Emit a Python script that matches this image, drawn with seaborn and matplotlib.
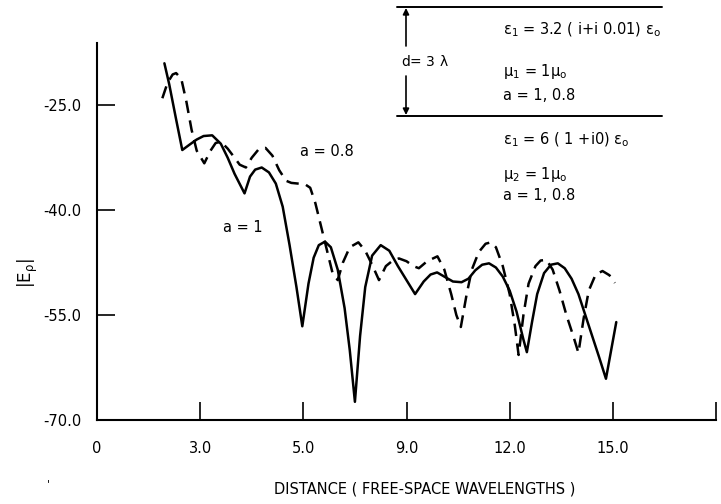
import matplotlib

matplotlib.use("Agg")
import matplotlib.pyplot as plt
import numpy as np
import pandas as pd
import seaborn as sns

# values (distance in wavelengths, |E_rho|)
dist_a1 = [1.96, 2.1, 2.3, 2.48, 2.7, 2.9, 3.1, 3.35, 3.6, 3.8, 4.0, 4.29,
           4.45, 4.6, 4.79, 5.0, 5.2, 5.4, 5.6, 5.8, 5.97, 6.15, 6.3, 6.45,
           6.63, 6.8, 7.0, 7.2, 7.35, 7.5, 7.65, 7.8, 8.0, 8.25, 8.5, 8.75,
           9.0, 9.25, 9.5, 9.7, 9.89, 10.1, 10.35, 10.6, 10.8, 11.0, 11.2,
           11.4, 11.6, 11.8, 12.0, 12.2, 12.4, 12.5, 12.65, 12.8, 13.0, 13.2,
           13.4, 13.6, 13.8, 14.0, 14.2, 14.4, 14.6, 14.8, 15.1]
field_a1 = [-19.0, -22.0, -27.0, -31.4, -30.6, -29.9, -29.4, -29.3, -30.5,
            -32.5, -34.8, -37.6, -35.2, -34.2, -33.9, -34.6, -36.2, -39.5,
            -45.0, -51.0, -56.6, -50.5, -46.8, -45.0, -44.5, -45.3, -48.5,
            -54.0, -60.0, -67.4, -58.0, -51.0, -46.5, -45.0, -45.8, -48.0,
            -50.0, -52.0, -50.2, -49.2, -48.9, -49.5, -50.2, -50.3, -49.8,
            -48.6, -47.8, -47.6, -48.2, -49.5, -51.5, -54.5, -58.5, -60.3,
            -56.0, -52.0, -49.0, -47.8, -47.6, -48.3, -49.8, -52.0, -55.0,
            -58.0, -61.0, -64.1, -56.0]

dist_a08 = [1.9, 2.05, 2.2, 2.3, 2.45, 2.6, 2.75, 2.9, 3.12, 3.3, 3.45, 3.6,
            3.8, 4.0, 4.15, 4.33, 4.5, 4.7, 4.9, 5.1, 5.3, 5.5, 5.65, 5.85,
            6.05, 6.2, 6.35, 6.5, 6.7, 6.85, 7.0, 7.15, 7.35, 7.6, 7.8, 8.0,
            8.2, 8.4, 8.6, 8.78, 9.0, 9.2, 9.36, 9.6, 9.9, 10.1, 10.3, 10.45,
            10.58, 10.75, 10.9, 11.1, 11.3, 11.45, 11.6, 11.8, 12.0, 12.15,
            12.26, 12.4, 12.55, 12.75, 12.9, 13.07, 13.25, 13.45, 13.65,
            13.85, 14.0, 14.15, 14.3, 14.5, 14.7, 14.9, 15.06]
field_a08 = [-24.0, -21.8, -20.6, -20.4, -21.2, -24.5, -28.5, -31.5, -33.3,
             -31.5, -30.4, -30.2, -31.2, -32.5, -33.5, -33.9, -32.5, -31.3,
             -31.1, -32.2, -34.3, -35.8, -36.1, -36.2, -36.3, -36.8, -39.0,
             -42.0, -46.0, -49.0, -50.0, -47.5, -45.3, -44.6, -45.8, -47.8,
             -50.0, -48.0, -47.2, -46.9, -47.3, -48.0, -48.3, -47.3, -46.6,
             -48.5, -52.0, -55.0, -56.7, -52.0, -48.5, -46.0, -44.8, -44.6,
             -45.3, -48.0, -52.0, -56.5, -60.7, -55.0, -50.5, -48.0, -47.2,
             -47.1, -48.5, -51.5, -55.0, -58.0, -60.4, -55.5, -51.5, -49.2,
             -48.7, -49.3, -50.4]

x_ticks = [0, 3, 6, 9, 12, 15, 18]
x_labels = ["0", "3.0", "5.0", "9.0", "12.0", "15.0", ""]
y_ticks = [-70, -55, -40, -25]
y_labels = ["-70.0", "-55.0", "-40.0", "-25.0"]

W, H = 721, 504


def fx(px):
    return px / W


def fy(py):
    return 1 - py / H


sns.set_theme(style="ticks")
plt.rcParams["font.family"] = ["DejaVu Sans"]
plt.rcParams["mathtext.fontset"] = "dejavusans"
plt.rcParams["mathtext.default"] = "regular"
for key in ["text.color", "axes.labelcolor", "xtick.color", "ytick.color"]:
    plt.rcParams[key] = "black"

fig = plt.figure(figsize=(W / 100, H / 100), dpi=100)
ax = fig.add_axes([fx(97), fy(420), fx(716) - fx(97), fy(43) - fy(420)])

df1 = pd.DataFrame({"d": dist_a1, "E": field_a1})
df2 = pd.DataFrame({"d": dist_a08, "E": field_a08})
sns.lineplot(data=df1, x="d", y="E", ax=ax, color="black", lw=1.8, legend=False)
sns.lineplot(data=df2, x="d", y="E", ax=ax, color="black", lw=1.8,
             linestyle=(0, (5, 3)), legend=False)

ax.set_xlim(0, 18)
ax.set_ylim(-70, -16.1)
ax.set_xticks(x_ticks)
ax.set_xticklabels(x_labels)
ax.set_yticks(y_ticks)
ax.set_yticklabels(y_labels)
ax.tick_params(axis="both", direction="in", length=13, width=1.2,
               colors="black", labelsize=10.5)
ax.tick_params(axis="x", pad=15)
ax.tick_params(axis="y", pad=11)
sns.despine(ax=ax)
for s in ["left", "bottom"]:
    ax.spines[s].set_linewidth(1.5)
    ax.spines[s].set_color("black")

ax.set_xlabel("DISTANCE ( FREE-SPACE WAVELENGTHS )", fontsize=10.5)
ax.xaxis.set_label_coords((425 - 97) / 619, (420 - 481) / 377)
ax.set_ylabel(r"$|E_\rho|$", fontsize=12)
ax.yaxis.set_label_coords((40 - 97) / 619, (420 - 273) / 377)

fig.text(fx(300), fy(151), "a = 0.8", fontsize=10.5, va="center")
fig.text(fx(223), fy(227), "a = 1", fontsize=10.5, va="center")

# layer sketch in the top right corner
for yl in [7, 116]:
    fig.add_artist(plt.Line2D([fx(397), fx(662)], [fy(yl), fy(yl)],
                              color="black", lw=1.4))
fig.text(fx(401), fy(62), r"d= 3 $\lambda$", fontsize=10, va="center")
arrow = dict(arrowstyle="-|>", color="black", lw=1.2, mutation_scale=9,
             shrinkA=0, shrinkB=0)
ax.annotate("", xy=(fx(406), fy(8)), xytext=(fx(406), fy(46)),
            xycoords="figure fraction", textcoords="figure fraction",
            arrowprops=arrow, annotation_clip=False)
ax.annotate("", xy=(fx(406), fy(115)), xytext=(fx(406), fy(76)),
            xycoords="figure fraction", textcoords="figure fraction",
            arrowprops=arrow, annotation_clip=False)

notes = [
    (30, r"$\epsilon_1$ = 3.2 ( i+i 0.01) $\epsilon_o$"),
    (72, r"$\mu_1$ = 1$\mu_o$"),
    (95, "a = 1, 0.8"),
    (140, r"$\epsilon_1$ = 6 ( 1 +i0) $\epsilon_o$"),
    (174, r"$\mu_2$ = 1$\mu_o$"),
    (196, "a = 1, 0.8"),
]
for yy, txt in notes:
    fig.text(fx(503), fy(yy), txt, fontsize=10.5, va="center")

fig.text(fx(47), fy(484), "'", fontsize=8, va="center")

fig.savefig("out.png", dpi=100, facecolor="white")
